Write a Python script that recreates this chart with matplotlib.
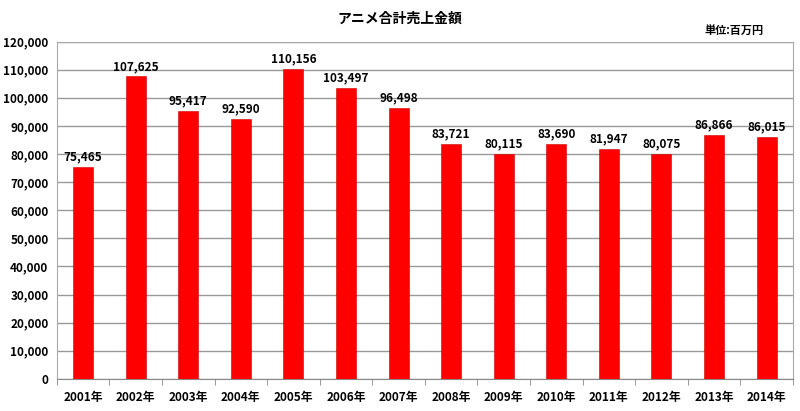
import numpy as np
import matplotlib.pyplot as plt
from matplotlib.ticker import FuncFormatter, FixedLocator

plt.rcParams['font.family'] = ['Noto Sans CJK JP', 'DejaVu Sans']

years = ["2001年", "2002年", "2003年", "2004年", "2005年", "2006年", "2007年",
         "2008年", "2009年", "2010年", "2011年", "2012年", "2013年", "2014年"]
sales = [75465, 107625, 95417, 92590, 110156, 103497, 96498,
         83721, 80115, 83690, 81947, 80075, 86866, 86015]

fig = plt.figure(figsize=(8, 4.11), dpi=100)
ax = fig.add_axes([0.071, 0.078, 0.92, 0.821])

x = np.arange(len(years))
ax.bar(x, sales, width=0.38, color="#ff0000", edgecolor="#cc0000", linewidth=0.4, zorder=3)
for xi, v in zip(x, sales):
    ax.text(xi, v + 1200, f"{v:,}", ha="center", va="bottom", fontsize=8.5,
            fontweight="bold", zorder=4)

ax.set_xlim(-0.5, len(years) - 0.5)
ax.set_ylim(0, 120000)
ax.set_yticks(np.arange(0, 120001, 10000))
ax.yaxis.set_major_formatter(FuncFormatter(lambda v, p: f"{int(v):,}"))
ax.set_xticks(x)
ax.set_xticklabels(years)
ax.xaxis.set_minor_locator(FixedLocator(np.arange(-0.5, len(years), 1)))
ax.tick_params(axis="x", which="major", length=0, pad=9)
ax.tick_params(axis="x", which="minor", length=4, color="#888888", direction="out")
ax.tick_params(axis="y", length=0, pad=6)
for lab in ax.get_xticklabels() + ax.get_yticklabels():
    lab.set_fontsize(8.5)
    lab.set_fontweight("bold")

ax.grid(True, axis="y", color="#999999", linewidth=1.0, zorder=0)
for side in ["top", "right", "left", "bottom"]:
    ax.spines[side].set_color("#aaaaaa")
ax.spines["bottom"].set_color("#888888")

fig.text(0.5, 0.955, "アニメ合計売上金額", ha="center", va="center", fontsize=10, fontweight="bold")
fig.text(0.918, 0.925, "単位:百万円", ha="center", va="center", fontsize=8, fontweight="bold")

fig.savefig("out.png", dpi=100)
